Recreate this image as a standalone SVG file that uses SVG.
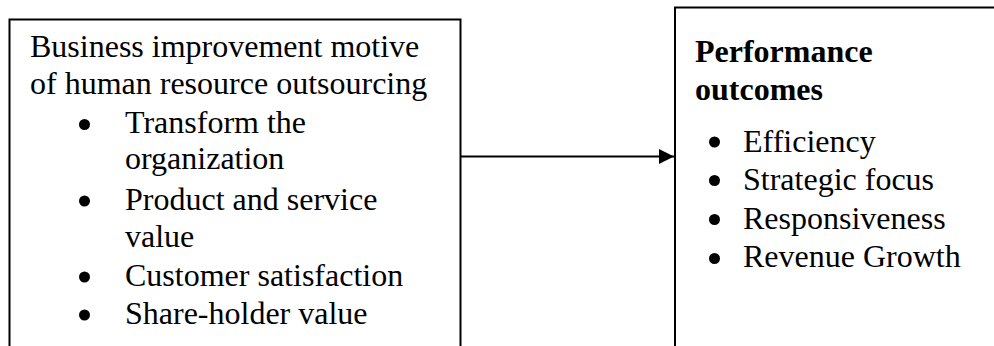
<svg xmlns="http://www.w3.org/2000/svg" width="994" height="346" viewBox="0 0 994 346">
<style>
.box{fill:#fff;stroke:#000;stroke-width:2}
.t{font-family:"Liberation Serif","Times New Roman",serif;font-size:32px;fill:#000}
.b{font-weight:bold}
.dot{fill:#000}
.conn{stroke:#000;stroke-width:2;fill:none}
</style>
<defs>
<marker id="arr" markerUnits="userSpaceOnUse" markerWidth="16" markerHeight="16" refX="15" refY="7.5" orient="auto">
<path d="M0,0 L15,7.5 L0,15 Z" fill="#000"/>
</marker>
</defs>
<rect width="994" height="346" fill="#fff"/>
<g id="motive">
<path class="box" d="M9.5,350 V19.5 H460.5 V350"/>
<text class="t" x="30" y="57">Business improvement motive</text>
<text class="t" x="30" y="94">of human resource outsourcing</text>
<circle class="dot" cx="84.5" cy="124.5" r="5.5"/>
<text class="t" x="125" y="133">Transform the</text>
<text class="t" x="125" y="169">organization</text>
<circle class="dot" cx="84.5" cy="201" r="5.5"/>
<text class="t" x="125" y="210">Product and service</text>
<text class="t" x="125" y="247">value</text>
<circle class="dot" cx="84.5" cy="277" r="5.5"/>
<text class="t" x="125" y="286">Customer satisfaction</text>
<circle class="dot" cx="84.5" cy="315" r="5.5"/>
<text class="t" x="125" y="324">Share-holder value</text>
</g>
<g id="outcomes">
<path class="box" d="M675,350 V7.5 H1000"/>
<text class="t b" x="695" y="62">Performance</text>
<text class="t b" x="695" y="100">outcomes</text>
<circle class="dot" cx="714.5" cy="142" r="5.5"/>
<text class="t" x="743" y="152">Efficiency</text>
<circle class="dot" cx="714.5" cy="180.5" r="5.5"/>
<text class="t" x="743" y="190">Strategic focus</text>
<circle class="dot" cx="714.5" cy="219.5" r="5.5"/>
<text class="t" x="743" y="229">Responsiveness</text>
<circle class="dot" cx="714.5" cy="258.5" r="5.5"/>
<text class="t" x="743" y="267">Revenue Growth</text>
</g>
<g id="connectors">
<line class="conn" x1="461" y1="156.5" x2="674" y2="156.5" marker-end="url(#arr)"/>
</g>
</svg>
